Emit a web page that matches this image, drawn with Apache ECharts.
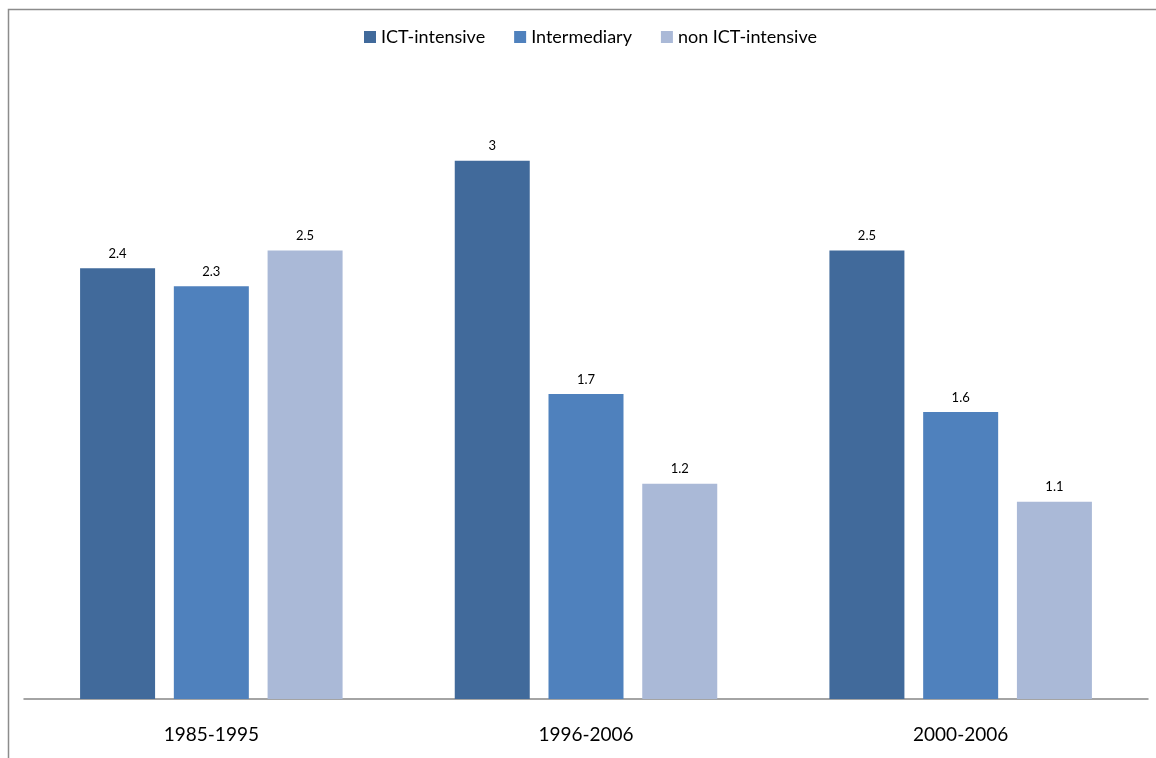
<!DOCTYPE html>
<html>
<head>
<meta charset="utf-8">
<script src="https://cdn.jsdelivr.net/npm/echarts@6/dist/echarts.min.js"></script>
<style>
  html, body { margin: 0; padding: 0; background: #ffffff; }
  #chart { width: 1156px; height: 758px; }
</style>
</head>
<body>
<div id="chart"></div>
<script>
// Periods on the category axis
const periods = ['1985-1995', '1996-2006', '2000-2006'];

// Growth by sector group
const ictIntensive = [2.4, 3, 2.5];
const intermediary = [2.3, 1.7, 1.6];
const nonIctIntensive = [2.5, 1.2, 1.1];

const seriesNames = ['ICT-intensive', 'Intermediary', 'non ICT-intensive'];
const seriesColors = ['#416A9B', '#4F81BD', '#AAB9D7'];
const seriesData = [ictIntensive, intermediary, nonIctIntensive];

const fontFamily = 'Lato, "Open Sans", sans-serif';

const chart = echarts.init(document.getElementById('chart'), null, { renderer: 'canvas' });

chart.setOption({
  backgroundColor: '#ffffff',
  animation: false,
  graphic: [{
    type: 'rect',
    shape: { x: 8.5, y: 9.5, width: 1200, height: 800 },
    style: { fill: 'none', stroke: '#8c8c8c', lineWidth: 1.5 },
    silent: true,
    z: -1
  }],
  legend: {
    left: 359,
    top: 23,
    itemWidth: 12,
    itemHeight: 12,
    itemGap: 29,
    icon: 'rect',
    textStyle: { fontFamily: fontFamily, fontSize: 18, color: '#000000', padding: [0, 0, 0, 0] },
    data: seriesNames
  },
  grid: { left: 24, right: 8, top: 71, bottom: 59, containLabel: false },
  xAxis: {
    type: 'category',
    data: periods,
    axisLine: { show: true, lineStyle: { color: '#878787', width: 1.5 } },
    axisTick: { show: false },
    axisLabel: { fontFamily: fontFamily, fontSize: 19, color: '#000000', margin: 26 }
  },
  yAxis: {
    type: 'value',
    min: 0,
    max: 3.5,
    interval: 0.5,
    show: false,
    splitLine: { show: false }
  },
  series: seriesData.map((values, i) => ({
    name: seriesNames[i],
    type: 'bar',
    data: values,
    barWidth: 75,
    barGap: '25%',
    itemStyle: { color: seriesColors[i] },
    label: {
      show: true,
      position: 'top',
      distance: 8,
      fontFamily: fontFamily,
      fontSize: 13,
      color: '#000000'
    }
  }))
});
</script>
</body>
</html>
